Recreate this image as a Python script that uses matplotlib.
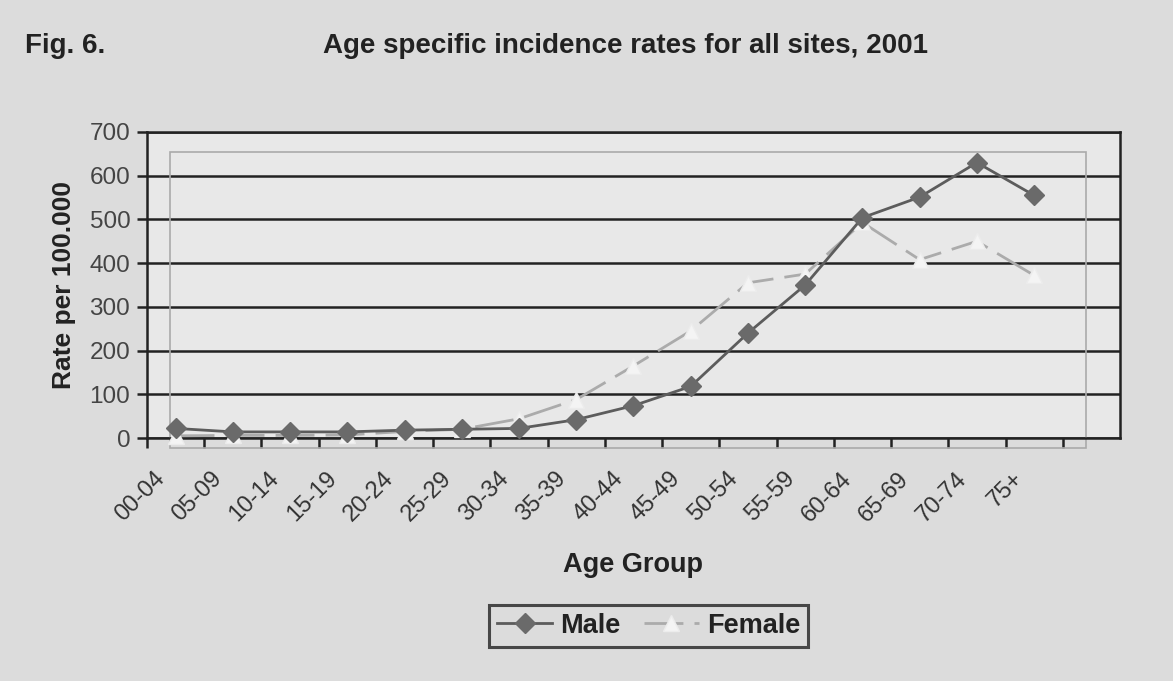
import matplotlib
matplotlib.use("Agg")
import matplotlib.pyplot as plt
from matplotlib.patches import Rectangle

plt.rcParams['font.family'] = ['Liberation Sans', 'DejaVu Sans']

age_groups = ["00-04", "05-09", "10-14", "15-19", "20-24", "25-29", "30-34", "35-39",
              "40-44", "45-49", "50-54", "55-59", "60-64", "65-69", "70-74", "75+"]
male = [22, 14, 14, 14, 18, 20, 22, 42, 74, 118, 240, 350, 504, 551, 630, 555]
female = [5, 6, 6, 7, 15, 20, 44, 88, 165, 245, 355, 375, 493, 408, 450, 372]
yticks = [0, 100, 200, 300, 400, 500, 600, 700]

bg = "#dcdcdc"
fig = plt.figure(figsize=(11.73, 6.81), dpi=100, facecolor=bg)
ax = fig.add_axes([0.1253, 0.3568, 0.8295, 0.4494])
ax.set_facecolor("#e8e8e8")

x = list(range(len(age_groups)))
ax.plot(x, male, color="#5c5c5c", lw=2, marker="D", ms=10, mfc="#6a6a6a",
        mec="#6a6a6a", label="Male", zorder=4, clip_on=False)
ax.plot(x, female, color="#ababab", lw=2, dashes=(14, 4), marker="^", ms=12,
        mfc="#f4f4f4", mec="#ececec", label="Female", zorder=3, clip_on=False)

ax.set_xlim(-0.5, len(age_groups) + 0.5)
ax.set_ylim(0, 700)
ax.set_yticks(yticks)
ax.set_yticklabels([str(v) for v in yticks], fontsize=17.5, color="#444444")
ax.yaxis.grid(True, color="#222222", lw=1.8)
ax.set_axisbelow(True)

ax.set_xticks([i - 0.5 for i in range(len(age_groups) + 1)])
ax.set_xticklabels([])
ax.tick_params(axis="x", direction="out", length=7, width=1.8, color="#222222")
ax.tick_params(axis="y", direction="out", length=7, width=1.8, color="#222222", pad=5)
for i, lab in enumerate(age_groups):
    ax.text(i - 0.38, -68, lab, rotation=45, ha="right", va="top",
            rotation_mode="anchor", fontsize=17, color="#333333")

for s in ax.spines.values():
    s.set_color("#222222")
    s.set_linewidth(1.8)

# thin grey frame inside plot area
ax.add_patch(Rectangle((0.0236, -0.033), 0.9414, 0.968, transform=ax.transAxes,
                       fill=False, edgecolor="#aaaaaa", lw=1.2, zorder=2, clip_on=False))

ax.set_ylabel("Rate per 100.000", fontsize=19, fontweight="bold", color="#222222", labelpad=10)
fig.text(0.54, 0.17, "Age Group", ha="center", va="center", fontsize=19.5,
         fontweight="bold", color="#222222")

fig.text(0.021, 0.933, "Fig. 6.", ha="left", va="center", fontsize=20,
         fontweight="bold", color="#222222")
fig.text(0.533, 0.933, "Age specific incidence rates for all sites, 2001", ha="center",
         va="center", fontsize=20, fontweight="bold", color="#222222")

leg = fig.legend(loc="center", bbox_to_anchor=(0.553, 0.081), ncol=2, fontsize=19.5,
                 frameon=True, fancybox=False, facecolor=bg, edgecolor="#222222",
                 handlelength=2.0, columnspacing=0.9, handletextpad=0.3, borderpad=0.3)
leg.get_frame().set_linewidth(2.2)
for t in leg.get_texts():
    t.set_fontweight("bold")
    t.set_color("#222222")

fig.savefig("out.png", dpi=100, facecolor=bg)
